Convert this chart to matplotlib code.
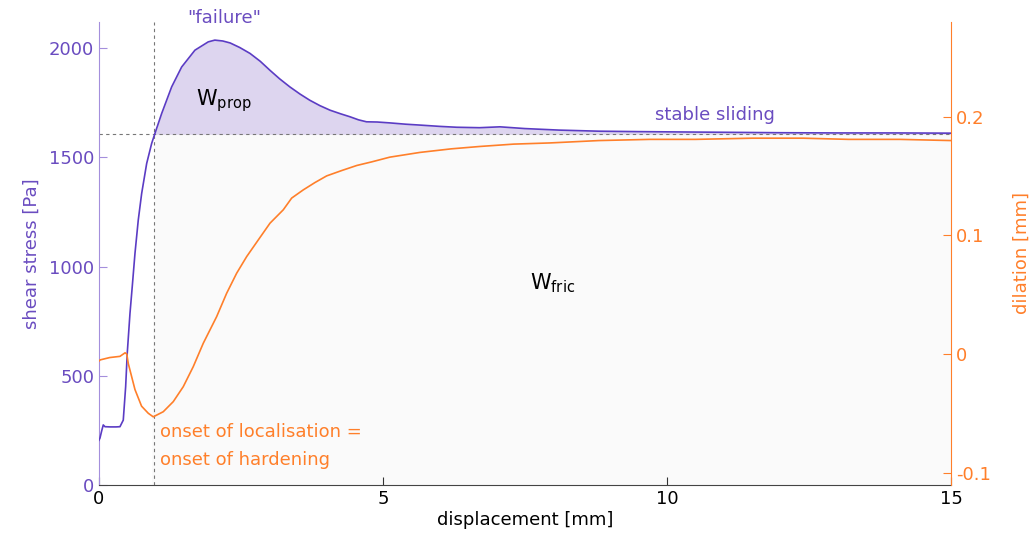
import numpy as np
import matplotlib
matplotlib.use("Agg")
import matplotlib.pyplot as plt

# shear stress curve [mm, Pa]
disp_s = [0.0, 0.018, 0.05, 0.076, 0.106, 0.2, 0.3, 0.37, 0.428, 0.47, 0.498, 0.546,
          0.586, 0.634, 0.692, 0.752, 0.84, 0.928, 0.986, 1.104, 1.28, 1.456, 1.69,
          1.924, 2.04, 2.18, 2.31, 2.48, 2.66, 2.84, 3.01, 3.18, 3.36, 3.54, 3.71,
          3.89, 4.07, 4.25, 4.42, 4.57, 4.71, 4.9, 5.12, 5.4, 5.65, 6.0, 6.3, 6.7,
          7.06, 7.5, 8.1, 8.8, 9.5, 10.0, 11.0, 12.0, 13.0, 14.0, 15.0]
stress = [205, 215, 250, 275, 267, 266, 266, 267, 297, 450, 603, 785,
          908, 1060, 1213, 1335, 1472, 1564, 1610, 1701, 1823, 1914, 1991,
          2029, 2037, 2033, 2024, 2003, 1976, 1940, 1899, 1860, 1823, 1790, 1762,
          1737, 1716, 1700, 1686, 1672, 1663, 1662, 1658, 1652, 1648, 1642, 1638, 1636,
          1640, 1632, 1625, 1620, 1618, 1617, 1615, 1613, 1612, 1612, 1611]

# dilation curve [mm, mm]
disp_d = [0.0, 0.02, 0.19, 0.37, 0.46, 0.49, 0.516, 0.634, 0.75, 0.868, 0.956,
          1.132, 1.308, 1.484, 1.66, 1.836, 2.072, 2.248, 2.424, 2.6, 2.805, 3.011,
          3.245, 3.393, 3.597, 3.803, 4.009, 4.273, 4.54, 4.8, 5.12, 5.65, 6.2, 6.7,
          7.3, 7.94, 8.8, 9.7, 10.5, 11.5, 12.4, 13.2, 14.1, 15.0]
dilation = [-0.006, -0.005, -0.003, -0.002, 0.001, 0.0, -0.008, -0.030, -0.044,
            -0.050, -0.053, -0.0487, -0.0402, -0.0276, -0.0107, 0.009, 0.0315,
            0.0512, 0.0681, 0.0821, 0.0962, 0.1103, 0.1216, 0.1315, 0.1384, 0.1446,
            0.1502, 0.1547, 0.159, 0.162, 0.166, 0.170, 0.173, 0.175, 0.177, 0.178,
            0.180, 0.181, 0.181, 0.182, 0.182, 0.181, 0.181, 0.180]

x_onset = 0.975
tau_stable = 1606

purple = "#5b3cc4"
purple_txt = "#6a4cc0"
orange = "#ff7f2a"

plt.rcParams['font.family'] = ['DejaVu Sans']
fs = 13

fig = plt.figure(figsize=(10.34, 5.43), dpi=100)
ax = fig.add_axes([0.0957, 0.1068, 0.824, 0.8527])

xs = np.array(disp_s)
ys = np.array(stress)
ax.fill_between(xs, tau_stable, ys, where=ys > tau_stable, interpolate=True,
                color="#ddd5ef", lw=0, zorder=1)
ax.fill_between(xs, 0, np.minimum(ys, tau_stable), where=xs >= x_onset - 0.01,
                interpolate=True, color="#fafafa", lw=0, zorder=0.5)
ax.plot(xs, ys, color=purple, lw=1.2, zorder=3)
ax.axhline(tau_stable, color="#777777", lw=0.8, ls=(0, (3, 3)), zorder=2)
ax.axvline(x_onset, color="#777777", lw=0.8, ls=(0, (3, 3)), zorder=2)

ax.set_xlim(0, 15)
ax.set_ylim(0, 2120)
ax.set_xticks([0, 5, 10, 15])
ax.set_yticks([0, 500, 1000, 1500, 2000])
ax.tick_params(axis='x', direction='in', length=6, labelsize=fs, colors="#333333",
               labelcolor="black")
ax.tick_params(axis='y', direction='in', length=6, labelsize=fs, colors="#a48fdc",
               labelcolor=purple_txt)
ax.spines['top'].set_visible(False)
ax.spines['right'].set_visible(False)
ax.spines['left'].set_color("#a48fdc")
ax.spines['bottom'].set_color("#444444")
ax.set_xlabel("displacement [mm]", fontsize=fs, labelpad=2)
ax.set_ylabel("shear stress [Pa]", fontsize=fs, color=purple_txt, labelpad=6)

ax.text(2.2, 1762, r"W$_\mathregular{prop}$", fontsize=fs + 2, ha='center', va='center', zorder=4)
ax.text(7.98, 925, r"W$_\mathregular{fric}$", fontsize=fs + 2, ha='center', va='center', zorder=4)
ax.text(10.85, 1693, "stable sliding", fontsize=fs, color=purple_txt, ha='center', va='center')
ax.text(2.2, 2136, '"failure"', fontsize=fs, color=purple_txt, ha='center', va='center',
        clip_on=False)
ax.text(1.07, 243, "onset of localisation =", fontsize=fs, color=orange, ha='left', va='center')
ax.text(1.07, 114, "onset of hardening", fontsize=fs, color=orange, ha='left', va='center')

ax2 = ax.twinx()
ax2.plot(disp_d, dilation, color=orange, lw=1.2, zorder=3)
ax2.set_ylim(-0.1105, 0.280)
ax2.set_yticks([-0.1, 0, 0.1, 0.2])
ax2.set_yticklabels(["-0.1", "0", "0.1", "0.2"])
ax2.tick_params(axis='y', direction='in', length=6, labelsize=fs, colors=orange)
for s in ['top', 'left', 'bottom']:
    ax2.spines[s].set_visible(False)
ax2.spines['right'].set_color(orange)
ax2.set_ylabel("dilation [mm]", fontsize=fs, color=orange, labelpad=16)

fig.savefig("out.png", dpi=100)
